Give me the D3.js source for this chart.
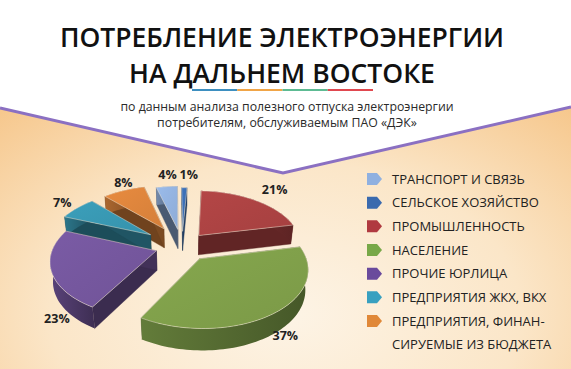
<!DOCTYPE html>
<html>
<head>
<meta charset="utf-8">
<script src="https://cdn.jsdelivr.net/npm/d3@7"></script>
<style>
  html, body { margin: 0; padding: 0; background: #fff; }
  svg { display: block; }
</style>
</head>
<body>
<svg id="chart" width="571" height="369"></svg>
<script>
// data (legend order)
const categories = [
  "ТРАНСПОРТ И СВЯЗЬ",
  "СЕЛЬСКОЕ ХОЗЯЙСТВО",
  "ПРОМЫШЛЕННОСТЬ",
  "НАСЕЛЕНИЕ",
  "ПРОЧИЕ ЮРЛИЦА",
  "ПРЕДПРИЯТИЯ ЖКХ, ВКХ",
  "ПРЕДПРИЯТИЯ,  ФИНАН-|СИРУЕМЫЕ ИЗ БЮДЖЕТА"
];
const shares = [4, 1, 21, 37, 23, 7, 8];
const colors = ["#92b1de", "#3b6db2", "#ab4242", "#7f9f4a", "#74569c", "#3897b1", "#dc843c"];
const legendColors = ["#8fb0e0", "#3a6aae", "#b03a40", "#78a848", "#6a4a9c", "#38a0c0", "#e08838"];

const title = ["ПОТРЕБЛЕНИЕ ЭЛЕКТРОЭНЕРГИИ", "НА ДАЛЬНЕМ ВОСТОКЕ"];
const subtitle = ["по данным анализа полезного отпуска электроэнергии", "потребителям, обслуживаемым  ПАО «ДЭК»"];

const W = 571, H = 369;
const svg = d3.select("#chart");
const defs = svg.append("defs");

// background
const bg = defs.append("radialGradient").attr("id", "bg")
  .attr("cx", 0.5).attr("cy", 0.85).attr("r", 0.75);
bg.append("stop").attr("offset", "0%").attr("stop-color", "#fdf4e6");
bg.append("stop").attr("offset", "55%").attr("stop-color", "#fbe6c8");
bg.append("stop").attr("offset", "100%").attr("stop-color", "#f6c78c");
svg.append("rect").attr("width", W).attr("height", H).attr("fill", "url(#bg)");

const notch = [[0, 108], [283, 173], [W, 107]];
svg.append("path")
  .attr("d", d3.line()([[0, 0], ...notch, [W, 0]]) + "Z")
  .attr("fill", "#fff");
svg.append("path")
  .attr("d", d3.line()(notch))
  .attr("fill", "none").attr("stroke", "#8b70c2").attr("stroke-width", 3);

// title
svg.selectAll("text.title").data(title).join("text")
  .attr("class", "title")
  .attr("x", 282).attr("y", (d, i) => 47 + i * 36)
  .attr("text-anchor", "middle")
  .style("font-family", "'Open Sans', sans-serif")
  .style("font-weight", 600).style("font-size", "26.5px")
  .attr("fill", "#111")
  .text(d => d);

const bar = ["#3d8fc0", "#f0a548", "#5dbb93", "#e0484f"];
const bx = d3.scaleLinear().domain([0, bar.length]).range([192, 373]);
svg.selectAll("rect.bar").data(bar).join("rect")
  .attr("x", (d, i) => bx(i)).attr("y", 89)
  .attr("width", bx(1) - bx(0)).attr("height", 2)
  .attr("fill", d => d);

svg.selectAll("text.sub").data(subtitle).join("text")
  .attr("class", "sub")
  .attr("x", 287).attr("y", (d, i) => 111 + i * 16)
  .attr("text-anchor", "middle")
  .style("font-family", "'Open Sans', sans-serif")
  .style("font-weight", 500).style("font-size", "12.3px")
  .attr("fill", "#2a2a2a")
  .text(d => d);

// 3D pie
const pieOrder = [0, 1, 2, 3, 4, 5, 6];
const explode = [32, 28, 26, 28, 26, 38, 38];
const total = d3.sum(shares);
const redStart = 3 * Math.PI / 180;
const start = redStart - (shares[0] + shares[1]) / total * 2 * Math.PI;
const pie = d3.pie().sort(null).value(i => shares[i])
  .startAngle(start).endAngle(start + 2 * Math.PI);
const arcs = pie(pieOrder);

const R = 100, hgt = 23, cx = 182, cy = 246, scale = 1.03;
const alpha = 32 * Math.PI / 180, Dcam = 550;
const ca = Math.cos(alpha), sa = Math.sin(alpha);
function proj(X, Y, Z) {
  const depth = Dcam + Y * ca - Z * sa;
  const k = Dcam * scale / depth;
  return [cx + X * k, cy - (Y * sa + Z * ca) * k];
}
function pt(a, r, z, off) {
  return proj(off[0] + r * Math.sin(a), off[1] + r * Math.cos(a), z);
}
const line = d3.line();

const slices = arcs.map(d => {
  const i = d.data, mid = (d.startAngle + d.endAngle) / 2;
  const off = [explode[i] * Math.sin(mid), explode[i] * Math.cos(mid)];
  return { d, i, mid, off, depth: off[1] + R * 0.5 * Math.cos(mid) };
}).sort((a, b) => b.depth - a.depth);

const g = svg.append("g");
slices.forEach(s => {
  const { d, i, off } = s;
  const col = d3.color(colors[i]);
  const steps = Math.max(4, Math.ceil((d.endAngle - d.startAngle) / 0.03));
  const angs = d3.range(steps + 1).map(k => d.startAngle + (d.endAngle - d.startAngle) * k / steps);
  const c0 = pt(0, 0, 0, off), c1 = pt(0, 0, -hgt, off);

  // radial walls
  [d.startAngle, d.endAngle].forEach((a, k) => {
    g.append("path")
      .attr("d", line([c0, pt(a, R, 0, off), pt(a, R, -hgt, off), c1]) + "Z")
      .attr("fill", col.darker(k ? 1.6 : 1.9))
      .attr("stroke", col.darker(2)).attr("stroke-width", 0.4);
  });

  // outer wall
  const top = angs.map(a => pt(a, R, 0, off));
  const bot = angs.map(a => pt(a, R, -hgt, off)).reverse();
  const gid = "side" + i;
  const xs = top.map(p => p[0]);
  const lg = defs.append("linearGradient").attr("id", gid)
    .attr("gradientUnits", "userSpaceOnUse")
    .attr("x1", d3.min(xs)).attr("x2", d3.max(xs)).attr("y1", 0).attr("y2", 0);
  lg.append("stop").attr("offset", "0%").attr("stop-color", col.darker(0.7));
  lg.append("stop").attr("offset", "100%").attr("stop-color", col.darker(1.7));
  g.append("path")
    .attr("d", line(top.concat(bot)) + "Z")
    .attr("fill", `url(#${gid})`);

  // top face
  const tg = defs.append("linearGradient").attr("id", "top" + i)
    .attr("x1", 0).attr("y1", 0).attr("x2", 1).attr("y2", 1);
  tg.append("stop").attr("offset", "0%").attr("stop-color", col.brighter(0.15));
  tg.append("stop").attr("offset", "100%").attr("stop-color", col.darker(0.1));
  g.append("path")
    .attr("d", line([c0].concat(top)) + "Z")
    .attr("fill", `url(#top${i})`)
    .attr("stroke", "#f4ead8").attr("stroke-opacity", 0.6).attr("stroke-width", 0.8);
});

// labels: radius factor and angle nudge (degrees) per slice
const labelR = [1.34, 1.36, 1.36, 1.08, 1.12, 1.22, 1.2];
const labelTurn = [2, 2, 1, -4, -22, 0, 4];
arcs.forEach(d => {
  const i = d.data, mid = (d.startAngle + d.endAngle) / 2;
  const off = [explode[i] * Math.sin(mid), explode[i] * Math.cos(mid)];
  const a = mid + labelTurn[i] * Math.PI / 180;
  const p = pt(a, R * labelR[i], Math.cos(a) < 0 ? -hgt : 0, off);
  svg.append("text")
    .attr("x", p[0]).attr("y", p[1])
    .attr("text-anchor", "middle").attr("dy", "0.35em")
    .style("font-family", "'Open Sans', sans-serif")
    .style("font-weight", 700).style("font-size", "12.5px")
    .attr("fill", "#222")
    .text(shares[i] + "%");
});

// legend
const ly = d3.scaleLinear().domain([0, categories.length - 1]).range([179, 321]);
const leg = svg.selectAll("g.leg").data(categories).join("g")
  .attr("class", "leg")
  .attr("transform", (d, i) => `translate(367,${ly(i)})`);
leg.append("path")
  .attr("d", "M0,-6H10L15,0L10,6H0Z")
  .attr("fill", (d, i) => legendColors[i]);
leg.each(function(d) {
  d3.select(this).selectAll("text").data(d.split("|")).join("text")
    .attr("x", 25).attr("y", (t, j) => j * 23.5).attr("dy", "0.35em")
    .style("font-family", "'Open Sans', sans-serif")
    .style("font-size", "13px")
    .attr("fill", "#222")
    .text(t => t);
});
</script>
</body>
</html>
